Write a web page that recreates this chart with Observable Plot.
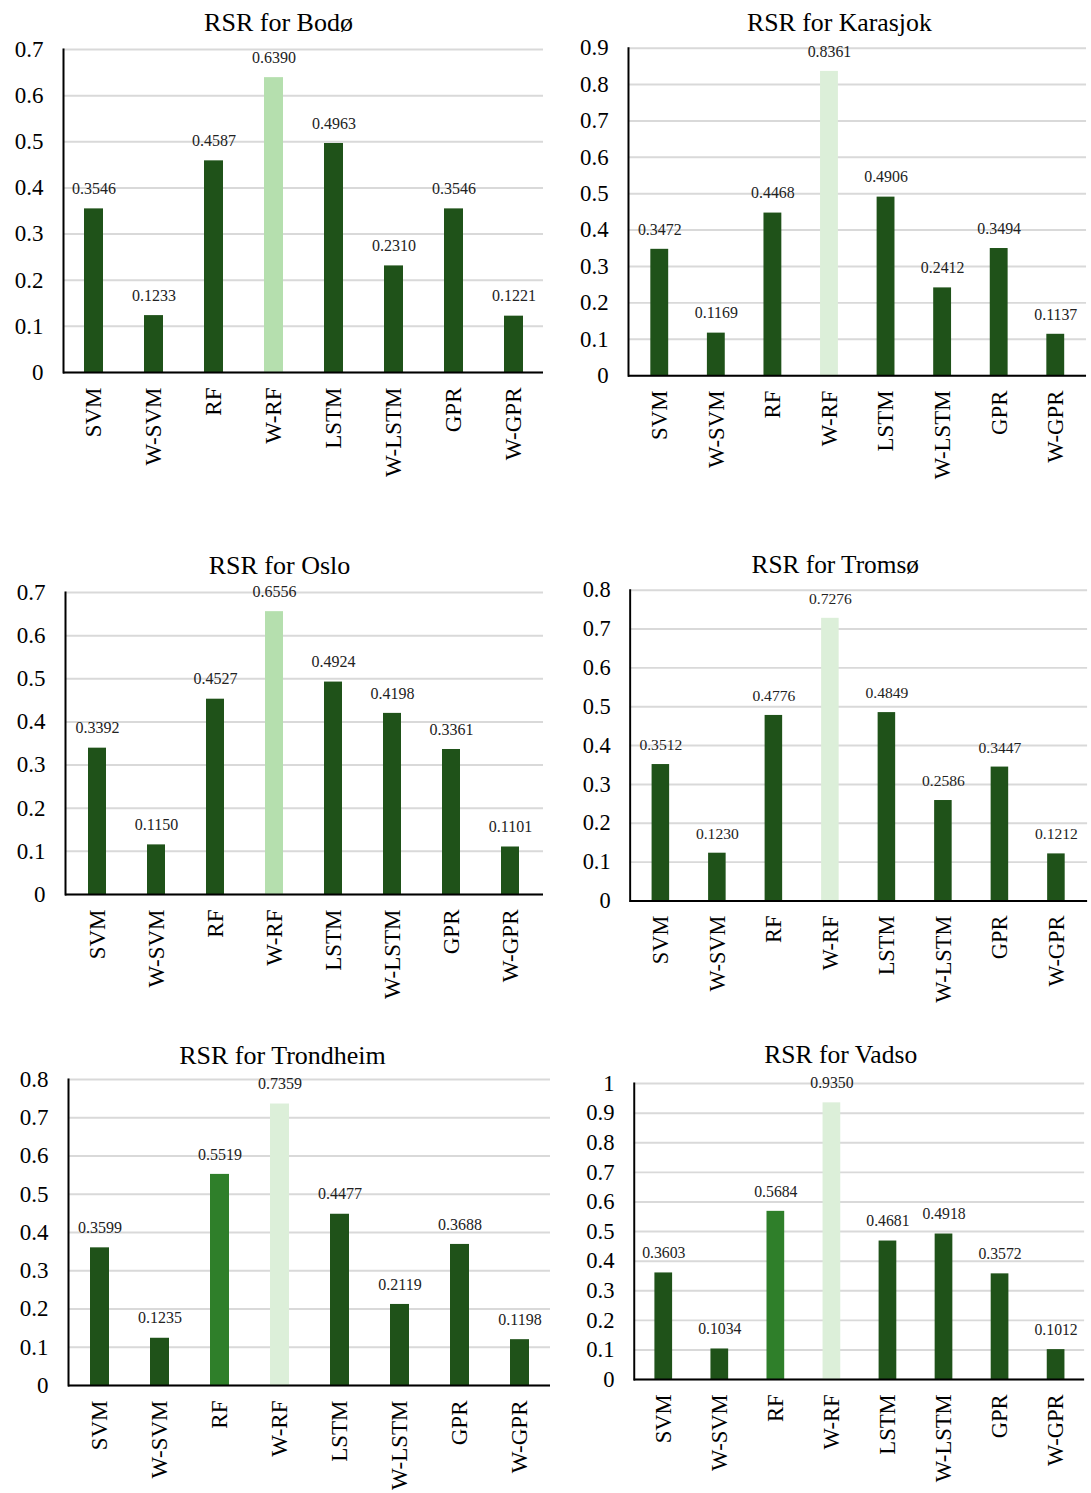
<!DOCTYPE html>
<html>
<head>
<meta charset="utf-8">
<script src="https://cdn.jsdelivr.net/npm/d3@7"></script>
<script src="https://cdn.jsdelivr.net/npm/@observablehq/plot@0.6"></script>
<style>
  html, body { margin: 0; padding: 0; background: #fff; }
  #grid { position: relative; width: 1091px; height: 1493px; overflow: hidden; background: #fff; }
  #grid > div { position: absolute; }
  #grid svg, #grid svg text { font-family: 'Liberation Serif', 'Times New Roman', Times, serif; }
</style>
</head>
<body>
<div id="grid"></div>
<script>
// Models compared in every station panel
const models = ["SVM", "W-SVM", "RF", "W-RF", "LSTM", "W-LSTM", "GPR", "W-GPR"];

// RSR per station, in the order of `models`
const bodo      = [0.3546, 0.1233, 0.4587, 0.6390, 0.4963, 0.2310, 0.3546, 0.1221];
const karasjok  = [0.3472, 0.1169, 0.4468, 0.8361, 0.4906, 0.2412, 0.3494, 0.1137];
const oslo      = [0.3392, 0.1150, 0.4527, 0.6556, 0.4924, 0.4198, 0.3361, 0.1101];
const tromso    = [0.3512, 0.1230, 0.4776, 0.7276, 0.4849, 0.2586, 0.3447, 0.1212];
const trondheim = [0.3599, 0.1235, 0.5519, 0.7359, 0.4477, 0.2119, 0.3688, 0.1198];
const vadso     = [0.3603, 0.1034, 0.5684, 0.9350, 0.4681, 0.4918, 0.3572, 0.1012];

// Top of each panel's value axis
const yMax = {bodo: 0.7, karasjok: 0.9, oslo: 0.7, tromso: 0.8, trondheim: 0.8, vadso: 1.0};

// Bar shading per panel
const shadeBodo      = ["dark", "dark", "dark", "mint", "dark", "dark", "dark", "dark"];
const shadeKarasjok  = ["dark", "dark", "dark", "pale", "dark", "dark", "dark", "dark"];
const shadeOslo      = ["dark", "dark", "dark", "mint", "dark", "dark", "dark", "dark"];
const shadeTromso    = ["dark", "dark", "dark", "pale", "dark", "dark", "dark", "dark"];
const shadeTrondheim = ["dark", "dark", "mid",  "pale", "dark", "dark", "dark", "dark"];
const shadeVadso     = ["dark", "dark", "mid",  "pale", "dark", "dark", "dark", "dark"];

const palette = {dark: "#1f5219", mid: "#2f7f2a", mint: "#b5dfae", pale: "#dcefd9"};

const FONT = "'Liberation Serif', 'Times New Roman', Times, serif";

// Panel placement on the page
const panels = [
  {title: "RSR for Bodø",      values: bodo,      shade: shadeBodo,      ymax: yMax.bodo,
   left: 0,   top: 0,    width: 550, height: 490, mL: 63,   mR: 7, mT: 49, mB: 118, tx: 278, ty: 22},
  {title: "RSR for Karasjok",  values: karasjok,  shade: shadeKarasjok,  ymax: yMax.karasjok,
   left: 560, top: 0,    width: 535, height: 490, mL: 68.5, mR: 5, mT: 48, mB: 112, tx: 841, ty: 22},
  {title: "RSR for Oslo",      values: oslo,      shade: shadeOslo,      ymax: yMax.oslo,
   left: 0,   top: 540,  width: 550, height: 470, mL: 65,   mR: 7, mT: 52, mB: 116, tx: 279, ty: 565},
  {title: "RSR for Tromsø",    values: tromso,    shade: shadeTromso,    ymax: yMax.tromso,
   left: 560, top: 540,  width: 545, height: 480, mL: 71.5, mR: 4, mT: 51, mB: 110, tx: 842, ty: 565},
  {title: "RSR for Trondheim", values: trondheim, shade: shadeTrondheim, ymax: yMax.trondheim,
   left: 0,   top: 1030, width: 560, height: 463, mL: 68,   mR: 10, mT: 49, mB: 108, tx: 282, ty: 1055},
  {title: "RSR for Vadso",     values: vadso,     shade: shadeVadso,     ymax: yMax.vadso,
   left: 560, top: 1030, width: 540, height: 463, mL: 75,   mR: 7, mT: 54, mB: 108, tx: 845, ty: 1055}
];

const fmt4 = d3.format(".4f");
const tickLabel = d => String(+d.toFixed(1));

const grid = document.getElementById("grid");

for (const p of panels) {
  const rows = models.map((m, i) => ({model: m, value: p.values[i], color: palette[p.shade[i]]}));
  const ticks = d3.range(0, Math.round(p.ymax * 10) + 1).map(i => i / 10);
  const frameCenterX = p.left + p.mL + (p.width - p.mL - p.mR) / 2;

  const chart = Plot.plot({
    width: p.width,
    height: p.height,
    marginTop: p.mT,
    marginRight: p.mR,
    marginBottom: p.mB,
    marginLeft: p.mL,
    style: {fontFamily: FONT, background: "transparent", color: "#000", overflow: "visible"},
    x: {domain: models, paddingInner: 0.69, paddingOuter: 0.345, label: null},
    y: {domain: [0, p.ymax], label: null},
    color: {type: "identity"},
    marks: [
      Plot.gridY(ticks, {stroke: "#d9d9d9", strokeWidth: 2, strokeOpacity: 1}),
      Plot.barY(rows, {x: "model", y: "value", fill: "color"}),
      Plot.ruleY([0], {stroke: "#000", strokeWidth: 2}),
      Plot.frame({anchor: "left", stroke: "#000", strokeWidth: 2}),
      Plot.text(rows, {x: "model", y: "value", text: d => fmt4(d.value), dy: -20,
        fontSize: 16, fontFamily: FONT, fill: "#222"}),
      Plot.axisY({ticks, tickSize: 0, tickPadding: 20, fontSize: 23, fontFamily: FONT,
        tickFormat: tickLabel, label: null}),
      Plot.axisX({tickSize: 0, tickPadding: 15, tickRotate: -90, fontSize: 23, fontFamily: FONT, label: null}),
      Plot.text([p.title], {frameAnchor: "top", lineAnchor: "middle",
        dx: p.tx - frameCenterX, dy: p.ty - p.top - p.mT,
        fontSize: 26, fontFamily: FONT, fill: "#000"})
    ]
  });

  const holder = document.createElement("div");
  holder.style.left = p.left + "px";
  holder.style.top = p.top + "px";
  holder.appendChild(chart);
  grid.appendChild(holder);
}
</script>
</body>
</html>
